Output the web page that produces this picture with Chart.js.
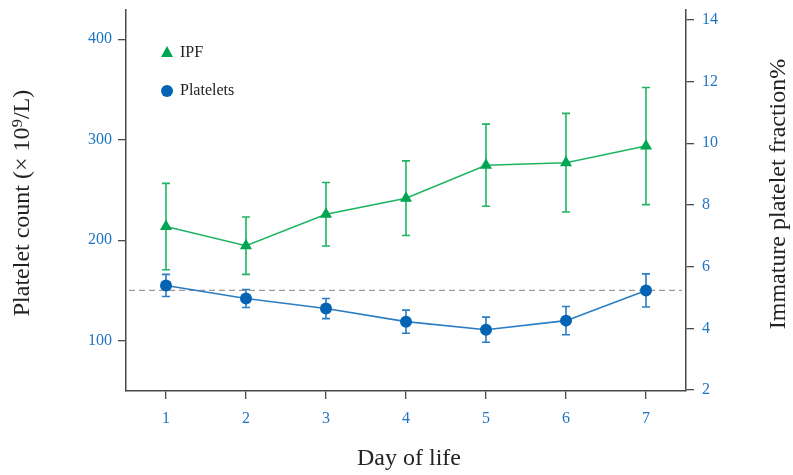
<!DOCTYPE html>
<html>
<head>
<meta charset="utf-8">
<script src="https://cdn.jsdelivr.net/npm/chart.js@4.4.1/dist/chart.umd.min.js"></script>
<style>
  html, body { margin: 0; padding: 0; background: #fff; }
  #wrap { position: relative; width: 793px; height: 475px; }
</style>
</head>
<body>
<div id="wrap"><canvas id="chart" width="793" height="475"></canvas></div>
<script>
// data
const days = ['1', '2', '3', '4', '5', '6', '7'];
const plateletMean = [155, 142, 132, 119, 111, 120, 150];
const plateletErr  = [11, 9, 10, 11.5, 12.5, 14, 16.5];
const ipfMean = [7.3, 6.68, 7.7, 8.22, 9.29, 9.37, 9.91];
const ipfErr  = [1.4, 0.93, 1.03, 1.21, 1.33, 1.6, 1.9];
const leftTicks = [100, 200, 300, 400];
const rightTicks = [2, 4, 6, 8, 10, 12, 14];
const refLine = 150;

const GREEN = '#00a651';
const GREEN_LIGHT = '#1fb462';
const BLUE = '#0563b4';
const BLUE_LIGHT = '#2a7cc4';
const TICK_BLUE = '#1f74c2';
const AXIS = '#4a4a4a';
const SERIF = '"Liberation Serif", "DejaVu Serif", serif';

// error bars + reference line + legend + axis titles
const extras = {
    id: 'extras',
    beforeDatasetsDraw(chart) {
        const ctx = chart.ctx;
        const x = chart.scales.x, yL = chart.scales.y, yR = chart.scales.y1;
        const area = chart.chartArea;

        // dashed reference line
        ctx.save();
        ctx.strokeStyle = '#9a9a9a';
        ctx.lineWidth = 1.3;
        ctx.setLineDash([6, 4]);
        const yy = yL.getPixelForValue(refLine);
        ctx.beginPath();
        ctx.moveTo(area.left + 3, yy);
        ctx.lineTo(area.right - 4, yy);
        ctx.stroke();
        ctx.restore();

        const drawBars = (means, errs, scale, color) => {
            ctx.save();
            ctx.strokeStyle = color;
            ctx.lineWidth = 1.6;
            means.forEach((m, i) => {
                const px = x.getPixelForValue(i);
                const top = scale.getPixelForValue(m + errs[i]);
                const bot = scale.getPixelForValue(m - errs[i]);
                ctx.beginPath();
                ctx.moveTo(px, top); ctx.lineTo(px, bot);
                ctx.moveTo(px - 4, top); ctx.lineTo(px + 4, top);
                ctx.moveTo(px - 4, bot); ctx.lineTo(px + 4, bot);
                ctx.stroke();
            });
            ctx.restore();
        };
        drawBars(ipfMean, ipfErr, yR, GREEN_LIGHT);
        drawBars(plateletMean, plateletErr, yL, BLUE_LIGHT);
    },
    afterDraw(chart) {
        const ctx = chart.ctx;
        ctx.save();
        // legend
        ctx.fillStyle = GREEN;
        ctx.beginPath();
        ctx.moveTo(167, 46); ctx.lineTo(173, 57); ctx.lineTo(161, 57);
        ctx.closePath(); ctx.fill();
        ctx.fillStyle = BLUE;
        ctx.beginPath();
        ctx.arc(167, 91, 6, 0, Math.PI * 2); ctx.fill();
        ctx.fillStyle = '#222';
        ctx.font = '16px ' + SERIF;
        ctx.textBaseline = 'middle';
        ctx.fillText('IPF', 180, 53);
        ctx.fillText('Platelets', 180, 91);

        // axis titles
        ctx.font = '24px ' + SERIF;
        ctx.textAlign = 'center';
        ctx.fillText('Day of life', 409, 459);

        ctx.save();
        ctx.translate(23, 203);
        ctx.rotate(-Math.PI / 2);
        ctx.fillText('Platelet count (\u00d7 10\u2079/L)', 0, 0);
        ctx.restore();

        ctx.save();
        ctx.translate(779, 194);
        ctx.rotate(-Math.PI / 2);
        ctx.fillText('Immature platelet fraction%', 0, 0);
        ctx.restore();
        ctx.restore();
    }
};

const axisGrid = { display: true, drawOnChartArea: false, drawTicks: true, tickLength: 8, color: AXIS, lineWidth: 1.3 };
const axisBorder = { display: true, color: AXIS, width: 1.5 };
const tickFont = { family: SERIF, size: 16 };

new Chart(document.getElementById('chart'), {
    type: 'line',
    data: {
        labels: days,
        datasets: [
            {
                label: 'IPF',
                data: ipfMean,
                yAxisID: 'y1',
                borderColor: GREEN_LIGHT,
                backgroundColor: GREEN,
                borderWidth: 1.6,
                pointStyle: 'triangle',
                pointRadius: 7,
                pointBorderWidth: 0,
                tension: 0
            },
            {
                label: 'Platelets',
                data: plateletMean,
                yAxisID: 'y',
                borderColor: BLUE_LIGHT,
                backgroundColor: BLUE,
                borderWidth: 1.6,
                pointStyle: 'circle',
                pointRadius: 6,
                pointBorderWidth: 0,
                tension: 0
            }
        ]
    },
    options: {
        responsive: false,
        animation: false,
        layout: { padding: { top: 10, left: 0, right: 0, bottom: 0 } },
        plugins: { legend: { display: false }, tooltip: { enabled: false } },
        scales: {
            x: {
                type: 'category',
                offset: true,
                grid: { ...axisGrid, offset: false },
                border: axisBorder,
                ticks: { color: TICK_BLUE, font: tickFont, padding: 10 },
                afterFit(s) { s.height = 84; s.paddingLeft = 0; s.paddingRight = 0; }
            },
            y: {
                position: 'left',
                min: 50,
                max: 429,
                grid: axisGrid,
                border: axisBorder,
                ticks: { color: TICK_BLUE, font: tickFont, padding: 6 },
                afterBuildTicks(s) { s.ticks = leftTicks.map(v => ({ value: v })); },
                afterFit(s) { s.width = 126; s.paddingTop = 0; s.paddingBottom = 0; }
            },
            y1: {
                position: 'right',
                min: 1.97,
                max: 14.32,
                grid: axisGrid,
                border: axisBorder,
                ticks: { color: TICK_BLUE, font: tickFont, padding: 8 },
                afterBuildTicks(s) { s.ticks = rightTicks.map(v => ({ value: v })); },
                afterFit(s) { s.width = 107; s.paddingTop = 0; s.paddingBottom = 0; }
            }
        }
    },
    plugins: [extras]
});
</script>
</body>
</html>
